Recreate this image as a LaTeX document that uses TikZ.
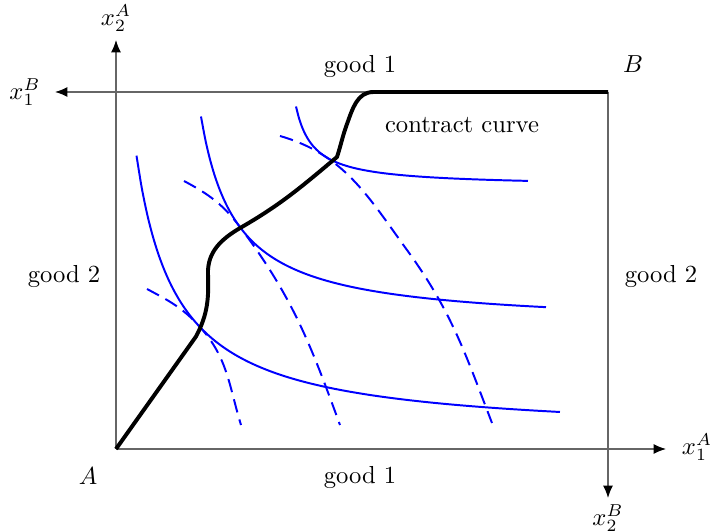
\documentclass[tikz,border=0pt]{standalone}
\usepackage{amsmath,amssymb}
\usepackage{tikz}
\usetikzlibrary{arrows.meta,positioning,calc}

\begin{document}
\begin{tikzpicture}[scale=0.714,
  axis/.style={-{Latex[length=5pt,width=4pt,color=black]}, black!60, line width=0.5pt},
  indA/.style={blue, line width=0.8pt},
  indB/.style={blue, line width=0.8pt, dash pattern=on 5.5pt off 3pt},
  contract/.style={line width=1.6pt, line join=round}]
\useasboundingbox (-2.32,-1.66) rectangle (11.9,8.98);
% Origins and axis ends of the box
\coordinate (A) at (0,0);
\coordinate (B) at (9.84,7.14);
\coordinate (xA1) at (11.0,0);
\coordinate (xA2) at (0,8.18);
\coordinate (xB1) at (-1.22,7.14);
\coordinate (xB2) at (9.84,-0.98);
% Axes (they also close the box)
\draw[axis] (A) -- (xA1);
\draw[axis] (A) -- (xA2);
\draw[axis] (B) -- (xB1);
\draw[axis] (B) -- (xB2);
% Axis labels
\node (labA1) at (11.62,0.04) {$x_1^A$};
\node (labA2) at (0,8.62) {$x_2^A$};
\node (labB1) at (-1.82,7.14) {$x_1^B$};
\node (labB2) at (9.84,-1.38) {$x_2^B$};
\node (nameA) at (-0.56,-0.54) {$A$};
\node (nameB) at (10.34,7.7) {$B$};
\node (goodtop) at (4.88,7.66) {good 1};
\node (goodbot) at (4.88,-0.56) {good 1};
\node (goodleft) at (-1.04,3.46) {good 2};
\node (goodright) at (10.9,3.46) {good 2};
% Indifference curves of A: y = k/(x-a) + b
\draw[indA, domain=0.41:8.88, samples=80, smooth] plot ({\x}, {4.55/(\x+0.4)+0.25});
\draw[indA, domain=1.70:8.6, samples=80, smooth] plot ({\x}, {2.94/(\x-1)+2.45});
\draw[indA, domain=3.6:8.24, samples=80, smooth] plot ({\x}, {0.56/(\x-3.25)+5.25});
% Indifference curves of B
\draw[indB] (0.62,3.2) to[out=-28,in=132] (1.68,2.44) to[out=-48,in=107] (2.5,0.48);
\draw[indB] (1.36,5.36) to[out=-28,in=127] (2.48,4.44) to[out=-53,in=110] (4.48,0.48);
\draw[indB] (3.28,6.26) to[out=-16,in=126] (5.82,3.98) to[out=-54,in=111] (7.52,0.52);
% Contract curve
\draw[contract] (A) -- (1.6,2.25) to[out=62,in=-88] (1.84,3.5)
  to[out=92,in=-150] (2.5,4.43) to[out=30,in=-140] (4.42,5.84)
  to[out=72,in=-110] (4.62,6.5) to[out=70,in=180] (5.15,7.14) -- (B);
\node (cc) at (6.92,6.48) {contract curve};
\end{tikzpicture}
\end{document}
